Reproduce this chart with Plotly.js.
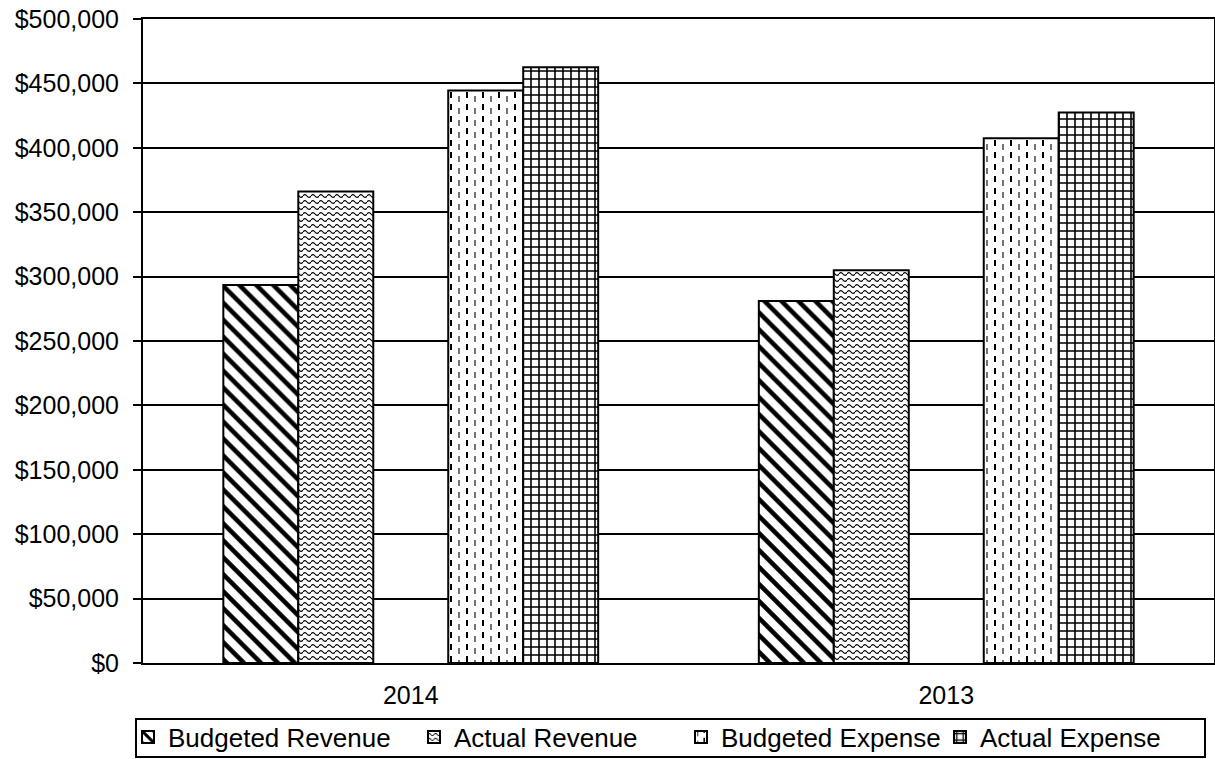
<!DOCTYPE html>
<html>
<head>
<meta charset="utf-8">
<script src="https://cdn.plot.ly/plotly-3.0.1.min.js"></script>
<style>
  html, body { margin: 0; padding: 0; background: #ffffff; }
  #chart { width: 1215px; height: 759px; }
</style>
</head>
<body>
<div id="chart"></div>
<script>
// Budget vs. actual figures per fiscal year
const years = ['2014', '2013'];
const budgetedRevenue = [293500, 281000];
const actualRevenue = [366000, 305000];
const blankSeries = [null, null];          // empty series that keeps its slot in each group
const budgetedExpense = [444500, 407500];
const actualExpense = [462500, 427500];

const seriesNames = ['Budgeted Revenue', 'Actual Revenue', '', 'Budgeted Expense', 'Actual Expense'];

const FONT = 'Liberation Sans, Arial, sans-serif';

function patternBar(name, values, pattern, legendId) {
  return {
    type: 'bar',
    name: name,
    x: years,
    y: values,
    legend: legendId,
    showlegend: !!legendId,
    marker: {
      color: '#ffffff',
      line: { color: '#000000', width: 2 },
      pattern: Object.assign({ fgcolor: '#000000', bgcolor: '#ffffff', fillmode: 'replace' }, pattern)
    },
    hoverinfo: 'x+y+name'
  };
}

const traces = [
  patternBar(seriesNames[0], budgetedRevenue, { shape: '\\', size: 12, solidity: 0.38 }, 'legend'),
  patternBar(seriesNames[1], actualRevenue, { shape: '-', size: 6, solidity: 0.2 }, 'legend2'),
  patternBar(seriesNames[2], blankSeries, { shape: '' }, null),
  patternBar(seriesNames[3], budgetedExpense, { shape: '|', size: 8, solidity: 0.2 }, 'legend3'),
  patternBar(seriesNames[4], actualExpense, { shape: '+', size: 8, solidity: 0.36 }, 'legend4')
];
traces[2].marker.line.width = 0;

function legendAt(x) {
  return {
    orientation: 'h',
    xref: 'container', yref: 'container',
    x: x, xanchor: 'left',
    y: 0.0290, yanchor: 'middle',
    bgcolor: 'rgba(0,0,0,0)',
    borderwidth: 0,
    font: { family: FONT, size: 26, color: '#000000' }
  };
}

const layout = {
  width: 1215,
  height: 759,
  margin: { l: 143, r: 1, t: 19, b: 96, pad: 0, autoexpand: false },
  paper_bgcolor: '#ffffff',
  plot_bgcolor: '#ffffff',
  font: { family: FONT, color: '#000000' },
  barmode: 'group',
  bargap: 0.30,
  bargroupgap: 0,
  xaxis: {
    type: 'category',
    showline: true, linecolor: '#000000', linewidth: 2, mirror: true,
    ticks: '',
    ticklabelstandoff: 9,
    tickfont: { family: FONT, size: 25, color: '#000000' },
    showgrid: false,
    fixedrange: true
  },
  yaxis: {
    range: [0, 500000],
    tick0: 0, dtick: 50000,
    tickprefix: '$',
    tickformat: ',.0f',
    showline: true, linecolor: '#000000', linewidth: 2, mirror: true,
    ticks: 'outside', ticklen: 8, tickwidth: 2, tickcolor: '#000000',
    ticklabelstandoff: 9,
    tickfont: { family: FONT, size: 25, color: '#000000' },
    showgrid: true, gridcolor: '#000000', gridwidth: 2,
    zeroline: false,
    fixedrange: true
  },
  legend: legendAt(0.10535),
  legend2: legendAt(0.34074),
  legend3: legendAt(0.56049),
  legend4: legendAt(0.77366),
  shapes: [{
    type: 'rect', xref: 'paper', yref: 'paper',
    x0: -0.00654, x1: 0.99160, y0: -0.14596, y1: -0.08696,
    line: { color: '#000000', width: 2 },
    fillcolor: 'rgba(0,0,0,0)',
    layer: 'above'
  }],
  showlegend: true
};

// Swap the plain line tiles for wavy and dashed ones
function restyleTiles(gd) {
  const NS = 'http://www.w3.org/2000/svg';
  gd.querySelectorAll('pattern').forEach(function (pat) {
    const path = pat.querySelector('path');
    if (!path) return;
    const nums = (path.getAttribute('d') || '').match(/-?\d*\.?\d+/g) || [];
    if (nums.length !== 4) return;
    const isHorizontal = nums[1] === nums[3] && nums[0] !== nums[2];
    const isVertical = nums[0] === nums[2] && nums[1] !== nums[3];
    if (!isHorizontal && !isVertical) return;
    pat.querySelectorAll('path').forEach(function (p) { p.remove(); });
    let w, h, shapes;
    if (isHorizontal) {
      w = 8; h = 6;
      shapes = [{ d: 'M0,3 Q2,0.4 4,3 T8,3', sw: 1.2 }];
    } else {
      w = 16; h = 12;
      shapes = [
        { d: 'M4,1V7', sw: 2 },
        { d: 'M12,5V11', sw: 1.1 }
      ];
    }
    pat.setAttribute('width', w);
    pat.setAttribute('height', h);
    pat.setAttribute('viewBox', '0 0 ' + w + ' ' + h);
    pat.querySelectorAll('rect').forEach(function (r) {
      r.setAttribute('width', w);
      r.setAttribute('height', h);
    });
    shapes.forEach(function (s) {
      const p = document.createElementNS(NS, 'path');
      p.setAttribute('d', s.d);
      p.setAttribute('fill', 'none');
      p.setAttribute('stroke', '#000000');
      p.setAttribute('stroke-width', s.sw);
      pat.appendChild(p);
    });
  });
}

Plotly.newPlot('chart', traces, layout, { displayModeBar: false, staticPlot: true })
  .then(restyleTiles);
</script>
</body>
</html>
